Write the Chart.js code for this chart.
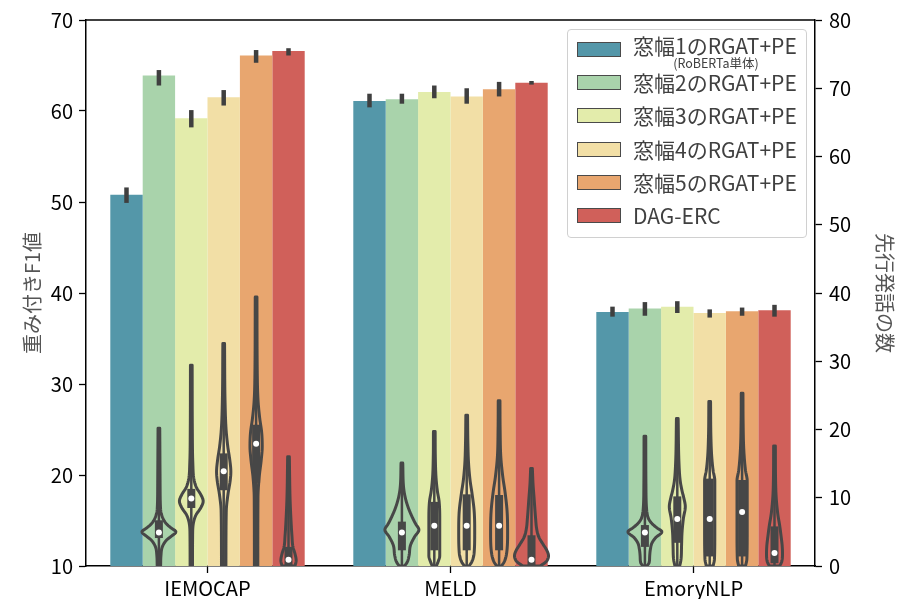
<!DOCTYPE html>
<html>
<head>
<meta charset="utf-8">
<script src="https://cdn.jsdelivr.net/npm/chart.js@4.4.1/dist/chart.umd.min.js"></script>
<style>
  body { margin: 0; background: #fff; }
  #wrap { position: relative; width: 897px; height: 599px; overflow: hidden; }
  #legend {
    position: absolute; left: 567px; top: 29px; width: 240px; height: 209px;
    border: 1px solid #d0d0d0; border-radius: 4px; background: rgba(255,255,255,0.85);
    font-family: "Noto Sans CJK JP", sans-serif; color: #404040; box-sizing: border-box;
  }
  .item { position: absolute; left: 9px; height: 16px; }
  .patch { position: absolute; left: 0; top: 0; width: 44px; height: 15px; border: 1.3px solid #4a4a4a; box-sizing: border-box; }
  .lbl { position: absolute; left: 56px; top: -6px; font-size: 21px; white-space: nowrap; line-height: 26px; }
  .lbl.first { top: -10px; }
  .sub { position: absolute; left: 56px; top: 13px; width: 166px; text-align: center; font-size: 12.5px; white-space: nowrap; line-height: 15px; }
</style>
</head>
<body>
<div id="wrap">
  <canvas id="chart" width="897" height="599"></canvas>
  <div id="legend"></div>
</div>
<script>
// categories and models
const categories = ['IEMOCAP', 'MELD', 'EmoryNLP'];
const models = ['窓幅1のRGAT+PE', '窓幅2のRGAT+PE', '窓幅3のRGAT+PE', '窓幅4のRGAT+PE', '窓幅5のRGAT+PE', 'DAG-ERC'];
const barColors = ['#5497a9', '#a9d3ab', '#e3ecab', '#f2dfa6', '#e8a66f', '#d0605a'];

// weighted F1 (left axis), per model: [IEMOCAP, MELD, EmoryNLP]
const f1Values = [
  [50.8, 61.1, 37.9],
  [63.9, 61.3, 38.3],
  [59.2, 62.1, 38.5],
  [61.5, 61.6, 37.8],
  [66.1, 62.4, 38.0],
  [66.6, 63.1, 38.1]
];
const f1ErrLow = [
  [49.9, 60.4, 37.4],
  [62.8, 60.8, 37.5],
  [58.2, 61.4, 37.8],
  [60.6, 60.8, 37.3],
  [65.3, 61.6, 37.5],
  [66.1, 62.9, 37.4]
];
const f1ErrHigh = [
  [51.6, 61.9, 38.5],
  [64.5, 61.9, 39.0],
  [60.1, 62.8, 39.1],
  [62.3, 62.5, 38.2],
  [66.7, 63.2, 38.4],
  [66.9, 63.3, 38.7]
];

// number of preceding utterances (right axis), violin summary per model / category
const violinMin = [null, [0, 0, 0], [0, 0, 0], [0, 0, 0], [0, 0, 0], [0, 0, 0]];
const violinQ1  = [null, [4.1, 2.3, 2.8], [8.5, 2.3, 3.4], [11.1, 2.3, 1.4], [12.2, 2.3, 1.4], [0, 0, 0.4]];
const violinMed = [null, [4.9, 4.9, 4.9], [9.9, 5.9, 6.9], [13.9, 5.9, 6.9], [17.9, 5.9, 7.9], [0.9, 0.9, 1.9]];
const violinQ3  = [null, [6.7, 6.5, 6.0], [11.3, 9.4, 10.2], [16.5, 10.5, 12.8], [20.7, 10.4, 12.6], [2.8, 4.5, 5.8]];
const violinMax = [null, [20.2, 15.1, 19.0], [29.4, 19.7, 21.6], [32.6, 22.1, 24.1], [39.4, 24.2, 25.3], [16.0, 14.3, 17.6]];

// relative density [value, density]
const violinDensity = [
  null,
  [
    [[0,0.1],[1.5,0.12],[2.8,0.2],[3.8,0.45],[4.4,0.75],[5,1.0],[5.6,0.7],[6.3,0.4],[7.2,0.2],[8.3,0.1],[12,0.07],[20.2,0.05]],
    [[0,0.15],[0.5,0.3],[1.5,0.42],[3,0.5],[4.3,0.75],[5.3,1.0],[6.2,0.8],[7.2,0.6],[8.5,0.38],[10,0.2],[11.5,0.1],[15.1,0.05]],
    [[0,0.12],[0.5,0.25],[1.4,0.28],[2.4,0.32],[3.4,0.42],[4.2,0.65],[5,1.0],[5.6,0.7],[6.2,0.42],[7,0.2],[8.3,0.1],[12,0.06],[19,0.05]]
  ],
  [
    [[0,0.07],[5,0.08],[6.5,0.14],[7.5,0.28],[8.5,0.55],[9.5,0.7],[10.5,0.55],[11.5,0.3],[12.8,0.15],[15,0.09],[20,0.06],[29.4,0.05]],
    [[0,0.12],[0.6,0.22],[1.5,0.32],[4,0.32],[7,0.32],[9.5,0.28],[11,0.18],[13,0.1],[16,0.06],[19.7,0.05]],
    [[0,0.14],[1,0.22],[3,0.25],[5,0.28],[7,0.36],[8.7,0.47],[10,0.38],[11,0.28],[12.5,0.17],[15,0.1],[21.6,0.05]]
  ],
  [
    [[0,0.13],[8,0.15],[10.5,0.25],[12.5,0.38],[13.8,0.42],[15.5,0.36],[17.5,0.24],[20,0.14],[24,0.08],[32.6,0.05]],
    [[0,0.14],[0.6,0.3],[2,0.44],[5,0.47],[8,0.44],[10.5,0.32],[12.5,0.2],[15,0.11],[18,0.07],[22.1,0.05]],
    [[0,0.2],[1,0.28],[5,0.3],[10,0.3],[12.5,0.3],[14,0.2],[16,0.12],[19,0.07],[24.1,0.05]]
  ],
  [
    [[0,0.1],[10,0.11],[13,0.18],[15.5,0.3],[17.5,0.36],[19.5,0.33],[21.5,0.22],[24,0.12],[28,0.07],[39.4,0.05]],
    [[0,0.14],[0.6,0.3],[2,0.45],[5,0.5],[8,0.47],[11,0.34],[13,0.22],[16,0.1],[20,0.06],[24.2,0.05]],
    [[0,0.2],[1,0.28],[5,0.3],[10,0.3],[12.5,0.3],[14,0.2],[17,0.1],[21,0.06],[25.3,0.05]]
  ],
  [
    [[0,0.38],[0.8,0.45],[1.8,0.38],[2.8,0.26],[4.5,0.2],[7,0.14],[10,0.09],[16,0.05]],
    [[0,0.5],[0.6,0.85],[1.5,1.0],[2.3,0.9],[3.1,0.7],[4.3,0.42],[5.5,0.3],[7,0.24],[10,0.15],[12,0.09],[14.3,0.05]],
    [[0,0.3],[0.6,0.42],[1.8,0.47],[3,0.45],[4.5,0.38],[6,0.3],[7.5,0.2],[10,0.1],[13,0.06],[17.6,0.05]]
  ]
];

const leftTicks = [10, 20, 30, 40, 50, 60, 70];
const rightTicks = [0, 10, 20, 30, 40, 50, 60, 70, 80];

const DARK = '#474747';
const FONT = 'Noto Sans CJK JP';

// monotone cubic interpolation of density knots
function densityAt(knots, v) {
  const n = knots.length;
  if (v <= knots[0][0]) return knots[0][1];
  if (v >= knots[n - 1][0]) return knots[n - 1][1];
  const xs = knots.map(k => k[0]), ys = knots.map(k => k[1]);
  const d = [], m = [];
  for (let i = 0; i < n - 1; i++) d.push((ys[i + 1] - ys[i]) / (xs[i + 1] - xs[i]));
  m.push(d[0]);
  for (let i = 1; i < n - 1; i++) m.push(d[i - 1] * d[i] <= 0 ? 0 : (d[i - 1] + d[i]) / 2);
  m.push(d[n - 2]);
  for (let i = 0; i < n - 1; i++) {
    if (d[i] === 0) { m[i] = 0; m[i + 1] = 0; continue; }
    const a = m[i] / d[i], b = m[i + 1] / d[i], s = a * a + b * b;
    if (s > 9) { const t = 3 / Math.sqrt(s); m[i] = t * a * d[i]; m[i + 1] = t * b * d[i]; }
  }
  let i = 0;
  while (v > xs[i + 1]) i++;
  const h = xs[i + 1] - xs[i], t = (v - xs[i]) / h;
  const h00 = 2*t*t*t - 3*t*t + 1, h10 = t*t*t - 2*t*t + t, h01 = -2*t*t*t + 3*t*t, h11 = t*t*t - t*t;
  return h00 * ys[i] + h10 * h * m[i] + h01 * ys[i + 1] + h11 * h * m[i + 1];
}

const extrasPlugin = {
  id: 'extras',
  afterDatasetsDraw(chart) {
    const ctx = chart.ctx, area = chart.chartArea;
    const yL = chart.scales.y, yR = chart.scales.y1;

    ctx.save();
    ctx.beginPath();
    ctx.rect(area.left, area.top, area.right - area.left, area.bottom - area.top);
    ctx.clip();

    // violins
    for (let mi = 1; mi < models.length; mi++) {
      const meta = chart.getDatasetMeta(mi);
      meta.data.forEach((bar, ci) => {
        const cx = bar.x, bw = bar.width;
        const maxHalf = bw * 0.525;
        const knots = violinDensity[mi][ci];
        const lo = violinMin[mi][ci], hi = violinMax[mi][ci];
        const pts = [];
        const steps = 120;
        for (let s = 0; s <= steps; s++) {
          const v = lo + (hi - lo) * s / steps;
          pts.push([yR.getPixelForValue(v), Math.max(0.6, densityAt(knots, v) * maxHalf)]);
        }
        ctx.beginPath();
        ctx.moveTo(cx - pts[0][1], pts[0][0]);
        pts.forEach(p => ctx.lineTo(cx + p[1], p[0]));
        for (let s = pts.length - 1; s >= 0; s--) ctx.lineTo(cx - pts[s][1], pts[s][0]);
        ctx.closePath();
        ctx.lineWidth = 3;
        ctx.strokeStyle = DARK;
        ctx.lineJoin = 'round';
        ctx.stroke();

        // whisker
        ctx.beginPath();
        ctx.moveTo(cx, yR.getPixelForValue(lo));
        ctx.lineTo(cx, yR.getPixelForValue(hi));
        ctx.lineWidth = 2.5;
        ctx.stroke();
        // box
        const bq1 = yR.getPixelForValue(violinQ1[mi][ci]), bq3 = yR.getPixelForValue(violinQ3[mi][ci]);
        ctx.fillStyle = DARK;
        ctx.fillRect(cx - 4, bq3, 8, bq1 - bq3);
        // median
        ctx.beginPath();
        ctx.arc(cx, yR.getPixelForValue(violinMed[mi][ci]), 3, 0, Math.PI * 2);
        ctx.fillStyle = '#fff';
        ctx.fill();
      });
    }
    ctx.restore();

    // error bars
    ctx.save();
    ctx.strokeStyle = '#3f3f3f';
    ctx.lineWidth = 4.5;
    models.forEach((m, mi) => {
      chart.getDatasetMeta(mi).data.forEach((bar, ci) => {
        ctx.beginPath();
        ctx.moveTo(bar.x, yL.getPixelForValue(f1ErrLow[mi][ci]));
        ctx.lineTo(bar.x, yL.getPixelForValue(f1ErrHigh[mi][ci]));
        ctx.stroke();
      });
    });
    ctx.restore();
  },
  afterDraw(chart) {
    const ctx = chart.ctx, a = chart.chartArea;
    ctx.save();
    ctx.strokeStyle = '#000';
    ctx.lineWidth = 1.5;
    ctx.beginPath();
    ctx.moveTo(a.left, a.top);
    ctx.lineTo(a.right, a.top);
    ctx.stroke();
    ctx.restore();
  }
};

const tickFont = { family: FONT, size: 20 };
const tickGrid = { drawOnChartArea: false, color: '#000', tickLength: 7, tickWidth: 1.3 };

new Chart(document.getElementById('chart'), {
  type: 'bar',
  data: {
    labels: categories,
    datasets: models.map((m, i) => ({
      label: m,
      data: f1Values[i],
      backgroundColor: barColors[i],
      borderWidth: 0,
      categoryPercentage: 0.8,
      barPercentage: 1.0,
      yAxisID: 'y'
    }))
  },
  options: {
    responsive: false,
    animation: false,
    layout: { padding: { top: 20 } },
    plugins: { legend: { display: false }, tooltip: { enabled: false } },
    scales: {
      x: {
        afterFit: s => { s.height = 33; },
        grid: Object.assign({ offset: false }, tickGrid),
        border: { color: '#000', width: 1.5 },
        ticks: { color: '#000', font: tickFont, padding: 3 }
      },
      y: {
        position: 'left',
        min: 10, max: 70,
        afterFit: s => { s.width = 86; },
        afterBuildTicks: s => { s.ticks = leftTicks.map(v => ({ value: v })); },
        grid: tickGrid,
        border: { color: '#000', width: 1.5 },
        ticks: { color: '#000', font: tickFont, padding: 6 },
        title: { display: true, text: '重み付きF1値', color: '#555', font: { family: FONT, size: 20 }, padding: { top: 20 } }
      },
      y1: {
        position: 'right',
        min: 0, max: 80,
        afterFit: s => { s.width = 82; },
        afterBuildTicks: s => { s.ticks = rightTicks.map(v => ({ value: v })); },
        grid: tickGrid,
        border: { color: '#000', width: 1.5 },
        ticks: { color: '#000', font: tickFont, padding: 7 },
        title: { display: true, text: '先行発話の数', color: '#555', font: { family: FONT, size: 20 }, padding: { top: 0 } }
      }
    }
  },
  plugins: [extrasPlugin]
});

// legend
const legend = document.getElementById('legend');
models.forEach((m, i) => {
  const item = document.createElement('div');
  item.className = 'item';
  item.style.top = (12 + i * 33.2) + 'px';
  item.innerHTML = '<div class="patch" style="background:' + barColors[i] + '"></div>' +
    '<div class="lbl' + (i === 0 ? ' first' : '') + '">' + m + '</div>' +
    (i === 0 ? '<div class="sub">(RoBERTa単体)</div>' : '');
  legend.appendChild(item);
});
</script>
</body>
</html>
